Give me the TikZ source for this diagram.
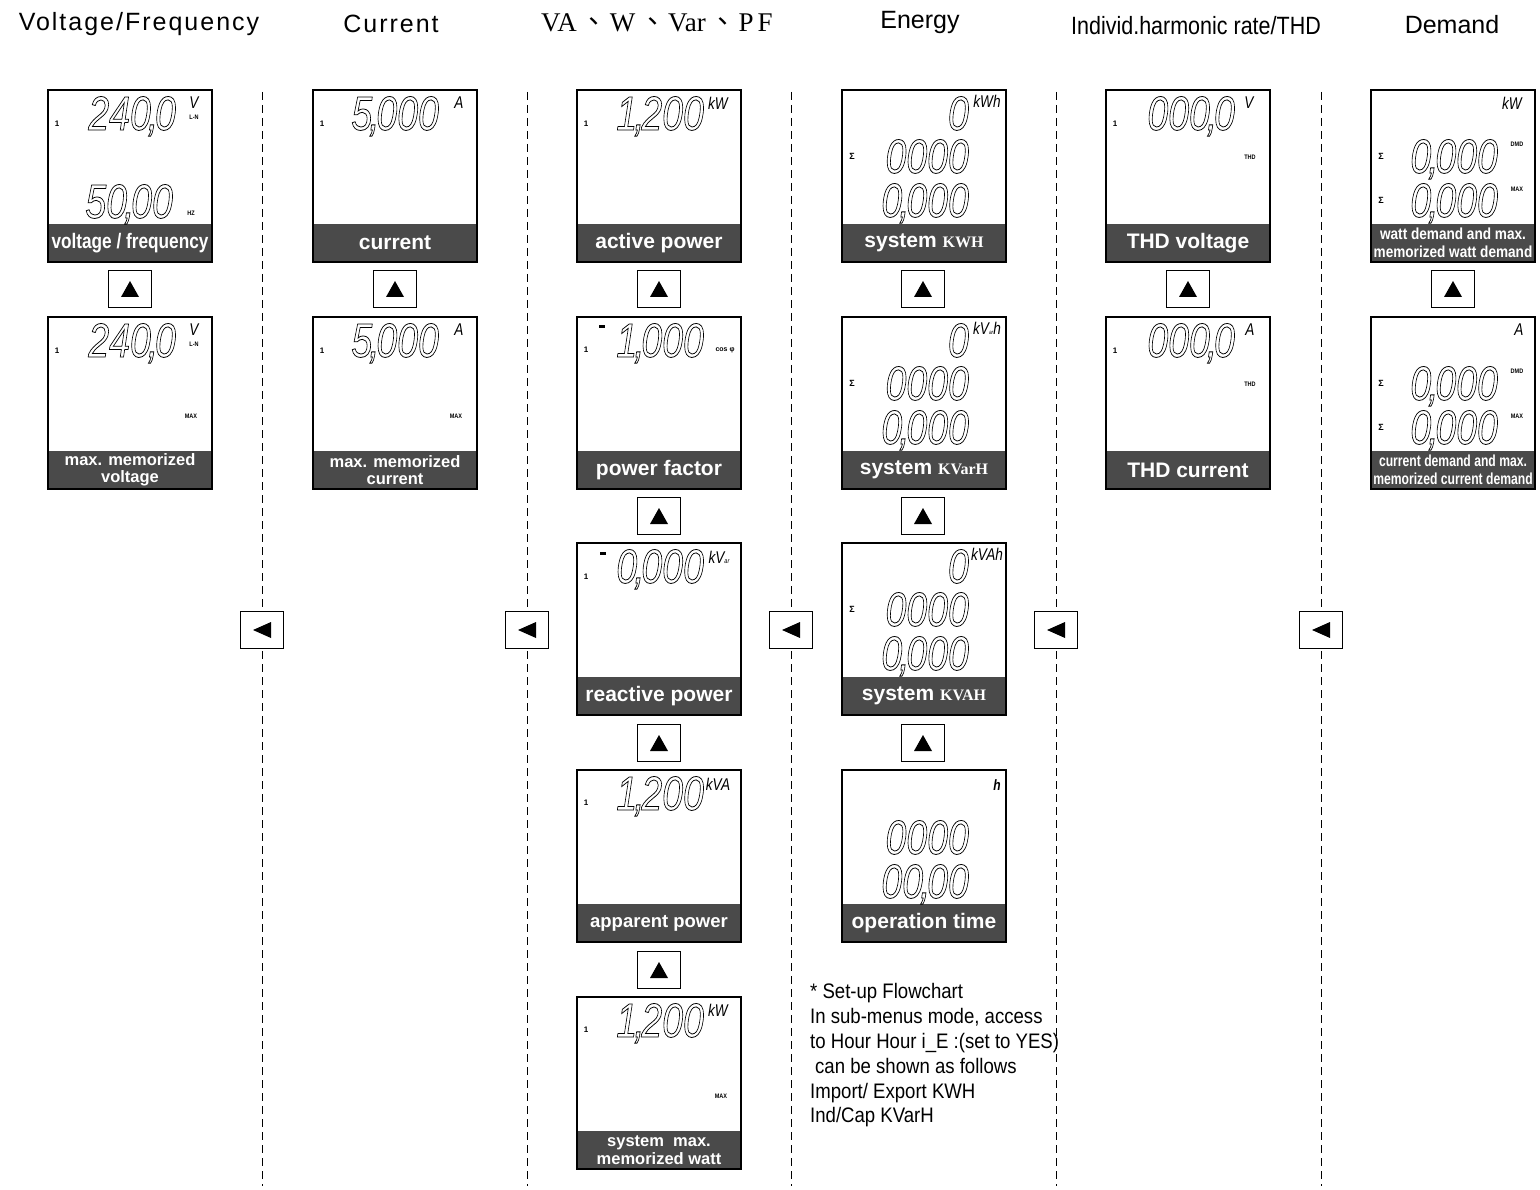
\documentclass[tikz,border=0pt]{standalone}
\usepackage{fontspec}
\setmainfont{Liberation Sans}
\newfontfamily\serifb{Liberation Serif}
\newfontfamily\headls{Liberation Sans}[LetterSpace=8]
\newfontfamily\cjk{Noto Sans CJK TC}
\usetikzlibrary{calc}
\definecolor{barg}{HTML}{4A4A4A}
\newcommand\olt[1]{\special{pdf:literal direct 1 Tr 0.8 w}#1\special{pdf:literal direct 0 Tr}}
\newcommand\dpt{\kern-4pt,\kern-4pt}
\newcommand\csep{\hspace{4pt}{\cjk 、}\hspace{2pt}}
\newcommand\upbtn[3]{\node[btn] (#1) at (#2,#3) {};
  \fill ([shift={(0,-8)}]#1.center) -- ([shift={(-9,8)}]#1.center) -- ([shift={(9,8)}]#1.center) -- cycle;}
\newcommand\leftbtn[3]{\node[btn] (#1) at (#2,#3) {};
  \fill ([shift={(-9,0)}]#1.center) -- ([shift={(9,-8)}]#1.center) -- ([shift={(9,8)}]#1.center) -- cycle;}
\tikzset{
  panel/.style={draw, line width=1.3pt, minimum width=164pt, minimum height=172pt, inner sep=0, outer sep=0, anchor=north west},
  barbg/.style={fill=barg, minimum width=164pt, minimum height=38pt, inner sep=0, outer sep=0, anchor=south west},
  bt/.style={text=white, font=\fontsize{21}{21}\selectfont\bfseries, inner sep=0},
  bttwo/.style={text=white, font=\fontsize{16.5}{17.5}\selectfont\bfseries, align=center, inner sep=0},
  segtxt/.style={font=\fontsize{48}{48}\selectfont\itshape, inner sep=0, anchor=base east, xscale=0.78, text height=35pt, text depth=2pt},
  indic/.style={font=\fontsize{8}{8}\selectfont\bfseries, inner sep=0},
  tinylbl/.style={font=\fontsize{6.5}{6.5}\selectfont\bfseries, inner sep=0, xscale=0.85},
  unitlbl/.style={font=\fontsize{17}{17}\selectfont\itshape, inner sep=0, xscale=0.8},
  sig/.style={font=\fontsize{9}{9}\selectfont\bfseries, inner sep=0},
  btn/.style={draw, fill=white, line width=1.2pt, minimum width=43pt, minimum height=37pt, inner sep=0},
  divider/.style={line width=1pt, dash pattern=on 8pt off 5pt},
  hdr/.style={font=\fontsize{25}{25}\selectfont, inner sep=0, anchor=base},
  notetxt/.style={font=\fontsize{21}{21}\selectfont, inner sep=0, anchor=base west, xscale=0.885},
  minus/.style={fill, minimum width=6pt, minimum height=3pt, inner sep=0},
}
\begin{document}
\begin{tikzpicture}[x=1pt,y=-1pt]
\useasboundingbox[fill=white] (0,0) rectangle (1540,1190);

% headings
\node[hdr, font=\fontsize{25}{25}\headls] (h1) at (139,31) {Voltage/Frequency};
\node[hdr, font=\fontsize{25}{25}\headls] (h2) at (391,33) {Current};
\node[hdr, font=\fontsize{27}{27}\serifb] (h3) at (657,32) {VA\csep W\csep Var\csep P\hspace{4pt}F};
\node[hdr] (h4) at (920,29) {Energy};
\node[hdr, xscale=0.86] (h5) at (1196,35) {Individ.harmonic rate/THD};
\node[hdr] (h6) at (1452,34) {Demand};

% dividers
\foreach \x/\n in {262/1,527/2,791/3,1056/4,1321/5}{
  \coordinate (dt\n) at (\x,92);
  \coordinate (db\n) at (\x,1186);
  \draw[divider] (dt\n) -- (db\n);
}

% ---------- column 1 ----------
\begin{scope}[shift={(48,90)}]
  \node[barbg] (c1r1b) at (0,172) {};
  \node[bt, xscale=0.82] (c1r1t) at (c1r1b.center) {voltage / frequency};
  \node[panel] (c1r1) at (0,0) {};
  \node[indic] (c1r1i) at (9,34) {1};
  \node[segtxt] (c1r1d) at (128,40) {\olt{240\dpt0}};
  \node[unitlbl] (c1r1u) at (146,13) {V};
  \node[tinylbl] (c1r1n) at (146,27) {L-N};
  \node[segtxt] (c1r1e) at (125,128) {\olt{50\dpt00}};
  \node[tinylbl] (c1r1h) at (143,123) {HZ};
\end{scope}
\begin{scope}[shift={(48,317)}]
  \node[barbg] (c1r2b) at (0,172) {};
  \node[bttwo] (c1r2t) at (c1r2b.center) {max. memorized\\voltage};
  \node[panel] (c1r2) at (0,0) {};
  \node[indic] (c1r2i) at (9,34) {1};
  \node[segtxt] (c1r2d) at (128,40) {\olt{240\dpt0}};
  \node[unitlbl] (c1r2u) at (146,13) {V};
  \node[tinylbl] (c1r2n) at (146,27) {L-N};
  \node[tinylbl] (c1r2m) at (143,99) {MAX};
\end{scope}
\upbtn{u11}{130}{289}

% ---------- column 2 ----------
\begin{scope}[shift={(313,90)}]
  \node[barbg] (c2r1b) at (0,172) {};
  \node[bt] (c2r1t) at (c2r1b.center) {current};
  \node[panel] (c2r1) at (0,0) {};
  \node[indic] (c2r1i) at (9,34) {1};
  \node[segtxt] (c2r1d) at (126,40) {\olt{5\dpt000}};
  \node[unitlbl] (c2r1u) at (146,13) {A};
\end{scope}
\begin{scope}[shift={(313,317)}]
  \node[barbg] (c2r2b) at (0,172) {};
  \node[bttwo] (c2r2t) at (c2r2b.center) {max. memorized\\current};
  \node[panel] (c2r2) at (0,0) {};
  \node[indic] (c2r2i) at (9,34) {1};
  \node[segtxt] (c2r2d) at (126,40) {\olt{5\dpt000}};
  \node[unitlbl] (c2r2u) at (146,13) {A};
  \node[tinylbl] (c2r2m) at (143,99) {MAX};
\end{scope}
\upbtn{u21}{395}{289}

% ---------- column 3 ----------
\begin{scope}[shift={(577,90)}]
  \node[barbg] (c3r1b) at (0,172) {};
  \node[bt] (c3r1t) at (c3r1b.center) {active power};
  \node[panel] (c3r1) at (0,0) {};
  \node[indic] (c3r1i) at (9,34) {1};
  \node[segtxt] (c3r1d) at (127,40) {\olt{1\dpt200}};
  \node[unitlbl] (c3r1u) at (141,13) {kW};
\end{scope}
\begin{scope}[shift={(577,317)}]
  \node[barbg] (c3r2b) at (0,172) {};
  \node[bt] (c3r2t) at (c3r2b.center) {power factor};
  \node[panel] (c3r2) at (0,0) {};
  \node[indic] (c3r2i) at (9,33) {1};
  \node[minus] (c3r2s) at (25,10) {};
  \node[segtxt] (c3r2d) at (127,40) {\olt{1\dpt000}};
  \node[font=\fontsize{7}{7}\selectfont\bfseries, inner sep=0] (c3r2u) at (148,33) {cos φ};
\end{scope}
\begin{scope}[shift={(577,543)}]
  \node[barbg] (c3r3b) at (0,172) {};
  \node[bt] (c3r3t) at (c3r3b.center) {reactive power};
  \node[panel] (c3r3) at (0,0) {};
  \node[indic] (c3r3i) at (9,34) {1};
  \node[minus] (c3r3s) at (26,10) {};
  \node[segtxt] (c3r3d) at (127,40) {\olt{0\dpt000}};
  \node[unitlbl] (c3r3u) at (142,14) {kV{\fontsize{7}{7}\selectfont ar}};
\end{scope}
\begin{scope}[shift={(577,770)}]
  \node[barbg] (c3r4b) at (0,172) {};
  \node[bt, font=\fontsize{18.5}{18.5}\selectfont\bfseries] (c3r4t) at (c3r4b.center) {apparent power};
  \node[panel] (c3r4) at (0,0) {};
  \node[indic] (c3r4i) at (9,33) {1};
  \node[segtxt] (c3r4d) at (127,40) {\olt{1\dpt200}};
  \node[unitlbl] (c3r4u) at (141,14) {kVA};
\end{scope}
\begin{scope}[shift={(577,997)}]
  \node[barbg] (c3r5b) at (0,172) {};
  \node[bttwo] (c3r5t) at (c3r5b.center) {system~~max.\\memorized watt};
  \node[panel] (c3r5) at (0,0) {};
  \node[indic] (c3r5i) at (9,33) {1};
  \node[segtxt] (c3r5d) at (127,40) {\olt{1\dpt200}};
  \node[unitlbl] (c3r5u) at (141,13) {kW};
  \node[tinylbl] (c3r5m) at (144,99) {MAX};
\end{scope}
\upbtn{u31}{659}{289}
\upbtn{u32}{659}{516}
\upbtn{u33}{659}{743}
\upbtn{u34}{659}{970}

% ---------- column 4 ----------
\begin{scope}[shift={(842,90)}]
  \node[barbg] (c4r1b) at (0,172) {};
  \node[bt] (c4r1t) at (c4r1b.center) {system {\serifb\fontsize{16}{16}\selectfont KWH}};
  \node[panel] (c4r1) at (0,0) {};
  \node[segtxt] (c4r1d) at (127,40) {\olt{0}};
  \node[unitlbl] (c4r1u) at (145,11) {kWh};
  \node[sig] (c4r1s) at (10,66) {Σ};
  \node[segtxt] (c4r1e) at (127,83) {\olt{0000}};
  \node[segtxt] (c4r1f) at (127,127) {\olt{0\dpt000}};
\end{scope}
\begin{scope}[shift={(842,317)}]
  \node[barbg] (c4r2b) at (0,172) {};
  \node[bt] (c4r2t) at (c4r2b.center) {system {\serifb\fontsize{16}{16}\selectfont KVarH}};
  \node[panel] (c4r2) at (0,0) {};
  \node[segtxt] (c4r2d) at (127,40) {\olt{0}};
  \node[unitlbl] (c4r2u) at (145,11) {kV{\fontsize{6}{6}\selectfont ar}h};
  \node[sig] (c4r2s) at (10,66) {Σ};
  \node[segtxt] (c4r2e) at (127,83) {\olt{0000}};
  \node[segtxt] (c4r2f) at (127,127) {\olt{0\dpt000}};
\end{scope}
\begin{scope}[shift={(842,543)}]
  \node[barbg] (c4r3b) at (0,172) {};
  \node[bt] (c4r3t) at (c4r3b.center) {system {\serifb\fontsize{16}{16}\selectfont KVAH}};
  \node[panel] (c4r3) at (0,0) {};
  \node[segtxt] (c4r3d) at (127,40) {\olt{0}};
  \node[unitlbl] (c4r3u) at (145,11) {kVAh};
  \node[sig] (c4r3s) at (10,66) {Σ};
  \node[segtxt] (c4r3e) at (127,83) {\olt{0000}};
  \node[segtxt] (c4r3f) at (127,127) {\olt{0\dpt000}};
\end{scope}
\begin{scope}[shift={(842,770)}]
  \node[barbg] (c4r4b) at (0,172) {};
  \node[bt] (c4r4t) at (c4r4b.center) {operation time};
  \node[panel] (c4r4) at (0,0) {};
  \node[unitlbl, font=\fontsize{15}{15}\selectfont\bfseries\itshape] (c4r4u) at (155,15) {h};
  \node[segtxt] (c4r4e) at (127,84) {\olt{0000}};
  \node[segtxt] (c4r4f) at (127,128) {\olt{00\dpt00}};
\end{scope}
\upbtn{u41}{923}{289}
\upbtn{u42}{923}{516}
\upbtn{u43}{923}{743}

\node[notetxt] (n1) at (810,998) {* Set-up Flowchart};
\node[notetxt] (n2) at (810,1023) {In sub-menus mode, access};
\node[notetxt] (n3) at (810,1048) {to Hour Hour i\_E :(set to YES)};
\node[notetxt] (n4) at (815,1073) {can be shown as follows};
\node[notetxt] (n5) at (810,1098) {Import/ Export KWH};
\node[notetxt] (n6) at (810,1122) {Ind/Cap KVarH};

% ---------- column 5 ----------
\begin{scope}[shift={(1106,90)}]
  \node[barbg] (c5r1b) at (0,172) {};
  \node[bt] (c5r1t) at (c5r1b.center) {THD voltage};
  \node[panel] (c5r1) at (0,0) {};
  \node[indic] (c5r1i) at (9,34) {1};
  \node[segtxt] (c5r1d) at (129,40) {\olt{000\dpt0}};
  \node[unitlbl] (c5r1u) at (143,13) {V};
  \node[tinylbl] (c5r1m) at (144,67) {THD};
\end{scope}
\begin{scope}[shift={(1106,317)}]
  \node[barbg] (c5r2b) at (0,172) {};
  \node[bt] (c5r2t) at (c5r2b.center) {THD current};
  \node[panel] (c5r2) at (0,0) {};
  \node[indic] (c5r2i) at (9,34) {1};
  \node[segtxt] (c5r2d) at (129,40) {\olt{000\dpt0}};
  \node[unitlbl] (c5r2u) at (144,13) {A};
  \node[tinylbl] (c5r2m) at (144,67) {THD};
\end{scope}
\upbtn{u51}{1188}{289}

% ---------- column 6 ----------
\begin{scope}[shift={(1371,90)}]
  \node[barbg] (c6r1b) at (0,172) {};
  \node[bttwo, font=\fontsize{16}{18}\selectfont\bfseries, xscale=0.85] (c6r1t) at (c6r1b.center) {watt demand and max.\\memorized watt demand};
  \node[panel] (c6r1) at (0,0) {};
  \node[unitlbl] (c6r1u) at (141,13) {kW};
  \node[sig] (c6r1s) at (10,66) {Σ};
  \node[segtxt] (c6r1d) at (127,83) {\olt{0\dpt000}};
  \node[tinylbl] (c6r1k) at (146,54) {DMD};
  \node[sig] (c6r1r) at (10,110) {Σ};
  \node[segtxt] (c6r1e) at (127,127) {\olt{0\dpt000}};
  \node[tinylbl] (c6r1m) at (146,99) {MAX};
\end{scope}
\begin{scope}[shift={(1371,317)}]
  \node[barbg] (c6r2b) at (0,172) {};
  \node[bttwo, font=\fontsize{16}{18}\selectfont\bfseries, xscale=0.76] (c6r2t) at (c6r2b.center) {current demand and max.\\memorized current demand};
  \node[panel] (c6r2) at (0,0) {};
  \node[unitlbl] (c6r2u) at (148,13) {A};
  \node[sig] (c6r2s) at (10,66) {Σ};
  \node[segtxt] (c6r2d) at (127,83) {\olt{0\dpt000}};
  \node[tinylbl] (c6r2k) at (146,54) {DMD};
  \node[sig] (c6r2r) at (10,110) {Σ};
  \node[segtxt] (c6r2e) at (127,127) {\olt{0\dpt000}};
  \node[tinylbl] (c6r2m) at (146,99) {MAX};
\end{scope}
\upbtn{u61}{1453}{289}

% left buttons on dividers
\leftbtn{l1}{262}{630}
\leftbtn{l2}{527}{630}
\leftbtn{l3}{791}{630}
\leftbtn{l4}{1056}{630}
\leftbtn{l5}{1321}{630}
\end{tikzpicture}
\end{document}
